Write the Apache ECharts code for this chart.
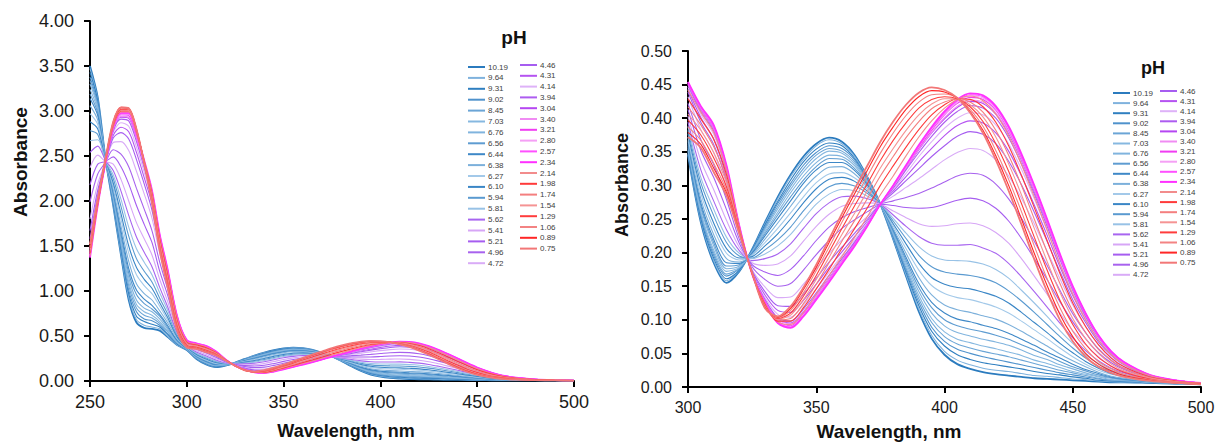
<!DOCTYPE html>
<html><head><meta charset="utf-8">
<script src="https://cdn.jsdelivr.net/npm/echarts@6/dist/echarts.min.js"></script>
<style>html,body{margin:0;padding:0;background:#fff}#c{width:1219px;height:443px}</style>
</head><body><div id="c"></div>
<script>
// wavelength grid (nm)
const wavelengths = [250,254,258,262,266,270,274,278,282,286,290,295,300,305,310,315,320,325,330,335,340,345,350,355,360,365,370,375,380,385,390,395,400,405,410,415,420,425,430,435,440,445,450,455,460,465,470,480,490,500];

const phLabels = ['10.19','9.64','9.31','9.02','8.45','7.03','6.76','6.56','6.44','6.38','6.27','6.10','5.94','5.81','5.62','5.41','5.21','4.96','4.72','4.46','4.31','4.14','3.94','3.04','3.40','3.21','2.80','2.57','2.34','2.14','1.98','1.74','1.54','1.29','1.06','0.89','0.75'];

const abs_1019 = [3.50,3.15,2.47,1.95,1.40,0.90,0.65,0.59,0.58,0.56,0.49,0.40,0.345,0.245,0.185,0.155,0.172,0.205,0.245,0.283,0.316,0.343,0.362,0.371,0.365,0.345,0.312,0.272,0.22,0.165,0.112,0.072,0.048,0.034,0.027,0.022,0.019,0.017,0.015,0.013,0.012,0.011,0.010,0.009,0.008,0.007,0.007,0.006,0.005,0.004];
const abs_964 = [3.47,3.13,2.47,1.96,1.42,0.93,0.68,0.62,0.60,0.58,0.50,0.40,0.347,0.248,0.188,0.158,0.173,0.204,0.243,0.280,0.313,0.339,0.359,0.368,0.362,0.343,0.311,0.272,0.221,0.167,0.116,0.077,0.053,0.040,0.033,0.028,0.025,0.023,0.020,0.017,0.016,0.014,0.012,0.011,0.009,0.008,0.007,0.006,0.005,0.004];
const abs_931 = [3.43,3.11,2.47,1.98,1.46,0.97,0.72,0.66,0.63,0.60,0.52,0.41,0.349,0.251,0.192,0.161,0.174,0.204,0.241,0.276,0.308,0.335,0.354,0.363,0.359,0.340,0.309,0.272,0.223,0.171,0.121,0.083,0.061,0.048,0.041,0.036,0.033,0.030,0.027,0.023,0.020,0.018,0.015,0.013,0.010,0.009,0.008,0.006,0.005,0.004];
const abs_902 = [3.38,3.08,2.47,2.00,1.49,1.01,0.77,0.69,0.67,0.62,0.53,0.42,0.351,0.255,0.196,0.165,0.176,0.203,0.238,0.273,0.303,0.330,0.349,0.359,0.355,0.338,0.308,0.272,0.224,0.174,0.126,0.089,0.068,0.056,0.050,0.045,0.041,0.037,0.033,0.029,0.025,0.021,0.018,0.015,0.012,0.010,0.009,0.007,0.005,0.004];
const abs_845 = [3.34,3.06,2.47,2.02,1.52,1.06,0.81,0.73,0.70,0.64,0.55,0.42,0.353,0.258,0.200,0.168,0.177,0.202,0.236,0.269,0.299,0.325,0.345,0.355,0.351,0.335,0.307,0.272,0.226,0.177,0.131,0.096,0.075,0.064,0.058,0.053,0.049,0.045,0.040,0.035,0.030,0.025,0.021,0.017,0.013,0.010,0.009,0.007,0.005,0.004];
const abs_703 = [3.30,3.04,2.47,2.03,1.55,1.10,0.85,0.77,0.73,0.66,0.56,0.43,0.355,0.261,0.204,0.172,0.178,0.201,0.234,0.265,0.294,0.320,0.340,0.351,0.348,0.332,0.305,0.272,0.228,0.181,0.136,0.102,0.082,0.071,0.066,0.061,0.057,0.052,0.047,0.040,0.035,0.029,0.023,0.019,0.015,0.011,0.010,0.007,0.005,0.004];
const abs_676 = [3.24,3.01,2.46,2.05,1.59,1.15,0.90,0.81,0.77,0.69,0.58,0.44,0.358,0.266,0.210,0.176,0.180,0.201,0.231,0.260,0.289,0.314,0.334,0.345,0.343,0.329,0.303,0.272,0.230,0.185,0.142,0.110,0.091,0.081,0.076,0.071,0.067,0.062,0.055,0.047,0.041,0.033,0.027,0.021,0.016,0.013,0.011,0.007,0.006,0.004];
const abs_656 = [3.19,2.98,2.46,2.08,1.63,1.20,0.96,0.86,0.80,0.72,0.60,0.45,0.361,0.270,0.215,0.180,0.182,0.200,0.228,0.256,0.283,0.308,0.328,0.340,0.339,0.325,0.302,0.272,0.232,0.189,0.148,0.118,0.100,0.091,0.086,0.082,0.077,0.071,0.063,0.055,0.047,0.038,0.030,0.024,0.018,0.014,0.011,0.008,0.006,0.004];
const abs_644 = [3.14,2.95,2.46,2.10,1.67,1.25,1.01,0.91,0.84,0.74,0.62,0.45,0.364,0.274,0.220,0.185,0.184,0.199,0.225,0.251,0.277,0.303,0.323,0.334,0.334,0.322,0.300,0.272,0.234,0.193,0.154,0.126,0.110,0.101,0.097,0.092,0.087,0.080,0.071,0.062,0.052,0.043,0.034,0.026,0.020,0.015,0.012,0.008,0.006,0.004];
const abs_638 = [3.06,2.90,2.46,2.13,1.72,1.33,1.08,0.97,0.90,0.78,0.65,0.47,0.367,0.280,0.227,0.191,0.186,0.197,0.220,0.244,0.269,0.294,0.314,0.327,0.328,0.317,0.297,0.272,0.236,0.199,0.163,0.137,0.122,0.115,0.111,0.106,0.101,0.093,0.083,0.072,0.061,0.049,0.039,0.030,0.022,0.016,0.013,0.008,0.006,0.004];
const abs_627 = [2.97,2.85,2.46,2.17,1.80,1.42,1.18,1.06,0.97,0.83,0.68,0.48,0.372,0.288,0.236,0.199,0.189,0.196,0.215,0.236,0.259,0.283,0.304,0.317,0.319,0.311,0.294,0.272,0.240,0.206,0.174,0.151,0.139,0.133,0.130,0.125,0.119,0.110,0.098,0.085,0.072,0.058,0.045,0.034,0.025,0.019,0.015,0.009,0.006,0.005];
const abs_610 = [2.88,2.80,2.46,2.20,1.86,1.50,1.26,1.13,1.03,0.87,0.71,0.49,0.377,0.295,0.244,0.206,0.192,0.194,0.210,0.228,0.250,0.274,0.295,0.309,0.312,0.306,0.291,0.272,0.243,0.213,0.184,0.163,0.153,0.148,0.146,0.141,0.135,0.125,0.111,0.096,0.081,0.065,0.051,0.038,0.028,0.020,0.016,0.009,0.006,0.005];
const abs_594 = [2.78,2.74,2.45,2.25,1.94,1.61,1.36,1.22,1.10,0.92,0.75,0.51,0.382,0.304,0.255,0.215,0.195,0.192,0.204,0.219,0.238,0.262,0.283,0.298,0.303,0.299,0.288,0.272,0.247,0.221,0.196,0.179,0.171,0.168,0.166,0.162,0.155,0.143,0.128,0.111,0.093,0.075,0.058,0.043,0.031,0.023,0.017,0.010,0.007,0.005];
const abs_581 = [2.67,2.68,2.45,2.29,2.02,1.71,1.47,1.32,1.18,0.98,0.79,0.53,0.388,0.312,0.265,0.223,0.199,0.191,0.198,0.210,0.227,0.250,0.272,0.287,0.294,0.292,0.284,0.272,0.251,0.229,0.209,0.195,0.189,0.188,0.187,0.183,0.175,0.162,0.144,0.125,0.105,0.084,0.065,0.048,0.035,0.025,0.019,0.011,0.007,0.005];
const abs_562 = [2.54,2.61,2.45,2.34,2.11,1.84,1.60,1.43,1.27,1.04,0.83,0.54,0.394,0.323,0.277,0.234,0.203,0.188,0.191,0.198,0.213,0.236,0.258,0.274,0.283,0.284,0.280,0.272,0.256,0.239,0.224,0.214,0.211,0.211,0.212,0.207,0.199,0.184,0.164,0.142,0.119,0.095,0.073,0.054,0.039,0.028,0.021,0.011,0.007,0.005];
const abs_541 = [2.37,2.51,2.44,2.41,2.24,2.00,1.76,1.58,1.40,1.13,0.89,0.57,0.403,0.337,0.294,0.248,0.208,0.185,0.181,0.183,0.195,0.217,0.239,0.257,0.269,0.273,0.274,0.272,0.262,0.252,0.243,0.239,0.240,0.243,0.244,0.240,0.230,0.214,0.191,0.165,0.138,0.110,0.084,0.063,0.045,0.031,0.023,0.012,0.008,0.005];
const abs_521 = [2.18,2.41,2.44,2.49,2.38,2.19,1.95,1.74,1.54,1.22,0.96,0.60,0.413,0.352,0.312,0.264,0.214,0.182,0.171,0.166,0.175,0.195,0.218,0.238,0.252,0.261,0.267,0.272,0.270,0.267,0.266,0.267,0.272,0.278,0.281,0.277,0.266,0.247,0.221,0.191,0.160,0.127,0.097,0.072,0.051,0.036,0.026,0.013,0.008,0.005];
const abs_496 = [1.99,2.30,2.43,2.57,2.52,2.38,2.14,1.91,1.67,1.32,1.03,0.63,0.422,0.368,0.331,0.279,0.220,0.179,0.160,0.150,0.154,0.174,0.197,0.218,0.236,0.249,0.261,0.272,0.277,0.282,0.288,0.296,0.305,0.314,0.318,0.315,0.302,0.280,0.251,0.217,0.181,0.144,0.109,0.081,0.057,0.040,0.028,0.015,0.009,0.005];
const abs_472 = [1.80,2.19,2.43,2.65,2.66,2.56,2.33,2.08,1.81,1.42,1.10,0.66,0.432,0.383,0.349,0.295,0.226,0.175,0.149,0.133,0.134,0.153,0.176,0.199,0.219,0.237,0.254,0.272,0.284,0.297,0.310,0.324,0.338,0.349,0.355,0.352,0.338,0.314,0.281,0.243,0.202,0.161,0.122,0.090,0.063,0.044,0.031,0.016,0.009,0.006];
const abs_446 = [1.67,2.12,2.43,2.70,2.76,2.69,2.46,2.19,1.90,1.48,1.14,0.68,0.439,0.394,0.361,0.306,0.230,0.173,0.142,0.121,0.120,0.138,0.162,0.186,0.208,0.229,0.250,0.272,0.289,0.307,0.325,0.343,0.359,0.373,0.380,0.376,0.362,0.336,0.301,0.260,0.217,0.172,0.130,0.096,0.067,0.047,0.033,0.016,0.009,0.006];
const abs_431 = [1.58,2.07,2.43,2.73,2.82,2.77,2.54,2.26,1.97,1.52,1.17,0.69,0.443,0.401,0.369,0.312,0.233,0.172,0.137,0.114,0.111,0.129,0.153,0.178,0.201,0.224,0.247,0.272,0.292,0.313,0.335,0.355,0.374,0.389,0.396,0.393,0.378,0.351,0.314,0.271,0.226,0.179,0.136,0.100,0.070,0.048,0.034,0.017,0.009,0.006];
const abs_414 = [1.52,2.03,2.42,2.76,2.87,2.83,2.60,2.32,2.01,1.56,1.20,0.70,0.446,0.406,0.376,0.318,0.235,0.171,0.133,0.108,0.104,0.122,0.146,0.171,0.196,0.219,0.245,0.272,0.294,0.318,0.343,0.365,0.385,0.400,0.408,0.405,0.390,0.362,0.324,0.280,0.233,0.185,0.140,0.103,0.072,0.050,0.035,0.017,0.010,0.006];
const abs_394 = [1.47,2.00,2.42,2.78,2.91,2.89,2.66,2.37,2.05,1.58,1.22,0.71,0.449,0.410,0.381,0.322,0.237,0.170,0.130,0.103,0.098,0.116,0.140,0.166,0.191,0.216,0.243,0.272,0.296,0.323,0.349,0.373,0.394,0.410,0.419,0.415,0.400,0.371,0.332,0.287,0.239,0.190,0.144,0.105,0.074,0.051,0.036,0.017,0.010,0.006];
const abs_304 = [1.43,1.99,2.42,2.79,2.93,2.92,2.69,2.39,2.07,1.60,1.23,0.71,0.451,0.413,0.384,0.325,0.238,0.169,0.129,0.101,0.095,0.112,0.137,0.162,0.188,0.214,0.242,0.272,0.298,0.325,0.353,0.378,0.399,0.416,0.425,0.422,0.406,0.377,0.337,0.291,0.243,0.192,0.146,0.107,0.075,0.052,0.036,0.018,0.010,0.006];
const abs_340 = [1.42,1.98,2.42,2.80,2.94,2.93,2.70,2.40,2.08,1.60,1.23,0.71,0.451,0.414,0.385,0.326,0.238,0.169,0.128,0.100,0.094,0.111,0.136,0.161,0.188,0.213,0.242,0.272,0.298,0.326,0.354,0.379,0.401,0.418,0.427,0.424,0.408,0.379,0.339,0.293,0.244,0.193,0.146,0.107,0.075,0.052,0.036,0.018,0.010,0.006];
const abs_321 = [1.40,1.97,2.42,2.81,2.96,2.95,2.72,2.42,2.10,1.61,1.24,0.72,0.452,0.415,0.387,0.327,0.239,0.169,0.127,0.098,0.091,0.109,0.133,0.159,0.186,0.212,0.241,0.272,0.299,0.328,0.356,0.382,0.405,0.422,0.431,0.428,0.412,0.382,0.342,0.296,0.246,0.195,0.148,0.108,0.076,0.052,0.037,0.018,0.010,0.006];
const abs_280 = [1.39,1.96,2.42,2.81,2.96,2.96,2.73,2.43,2.11,1.62,1.24,0.72,0.453,0.416,0.388,0.328,0.239,0.168,0.126,0.097,0.090,0.107,0.132,0.158,0.185,0.211,0.241,0.272,0.299,0.328,0.358,0.384,0.406,0.424,0.433,0.430,0.414,0.384,0.344,0.297,0.248,0.196,0.149,0.109,0.076,0.053,0.037,0.018,0.010,0.006];
const abs_257 = [1.38,1.96,2.42,2.82,2.97,2.97,2.74,2.44,2.11,1.63,1.25,0.72,0.453,0.417,0.389,0.329,0.240,0.168,0.126,0.096,0.089,0.106,0.131,0.157,0.184,0.211,0.240,0.272,0.300,0.329,0.359,0.385,0.408,0.426,0.435,0.432,0.416,0.386,0.345,0.299,0.249,0.197,0.149,0.110,0.077,0.053,0.037,0.018,0.010,0.006];
const abs_234 = [1.37,1.95,2.42,2.82,2.98,2.98,2.75,2.45,2.12,1.63,1.25,0.72,0.454,0.418,0.390,0.330,0.240,0.168,0.125,0.095,0.088,0.105,0.130,0.156,0.183,0.210,0.240,0.272,0.300,0.330,0.360,0.387,0.410,0.428,0.437,0.434,0.418,0.388,0.347,0.300,0.250,0.198,0.150,0.110,0.077,0.053,0.037,0.018,0.010,0.006];
const abs_214 = [1.39,1.96,2.43,2.83,2.99,2.99,2.76,2.45,2.10,1.60,1.22,0.70,0.442,0.409,0.379,0.323,0.238,0.168,0.124,0.097,0.093,0.111,0.138,0.166,0.194,0.223,0.254,0.286,0.314,0.344,0.372,0.396,0.415,0.428,0.433,0.426,0.406,0.374,0.331,0.283,0.234,0.183,0.138,0.100,0.070,0.048,0.034,0.017,0.009,0.006];
const abs_198 = [1.42,1.97,2.44,2.84,3.00,3.00,2.77,2.44,2.08,1.58,1.19,0.67,0.429,0.399,0.369,0.316,0.236,0.169,0.123,0.098,0.098,0.118,0.146,0.175,0.206,0.236,0.267,0.300,0.329,0.357,0.383,0.405,0.420,0.429,0.428,0.417,0.394,0.359,0.315,0.267,0.218,0.169,0.125,0.090,0.063,0.043,0.030,0.015,0.009,0.005];
const abs_174 = [1.44,1.98,2.44,2.85,3.01,3.00,2.77,2.44,2.06,1.55,1.16,0.65,0.417,0.390,0.358,0.310,0.235,0.169,0.121,0.100,0.102,0.124,0.153,0.185,0.217,0.248,0.281,0.314,0.343,0.371,0.395,0.414,0.424,0.429,0.424,0.409,0.382,0.345,0.300,0.250,0.201,0.154,0.113,0.081,0.056,0.039,0.027,0.014,0.008,0.005];
const abs_154 = [1.46,1.99,2.45,2.86,3.02,3.01,2.78,2.43,2.04,1.53,1.13,0.63,0.406,0.382,0.349,0.304,0.233,0.169,0.120,0.101,0.107,0.130,0.160,0.193,0.227,0.259,0.292,0.326,0.355,0.382,0.405,0.421,0.429,0.429,0.420,0.402,0.372,0.332,0.286,0.236,0.187,0.141,0.102,0.072,0.050,0.034,0.024,0.013,0.008,0.005];
const abs_129 = [1.48,2.00,2.46,2.86,3.02,3.02,2.79,2.43,2.02,1.50,1.11,0.61,0.397,0.375,0.341,0.298,0.232,0.169,0.119,0.102,0.110,0.135,0.166,0.201,0.236,0.270,0.303,0.337,0.367,0.393,0.415,0.428,0.432,0.429,0.417,0.395,0.362,0.321,0.273,0.223,0.174,0.129,0.093,0.064,0.044,0.031,0.022,0.012,0.007,0.005];
const abs_106 = [1.49,2.01,2.46,2.87,3.03,3.02,2.79,2.43,2.01,1.48,1.09,0.59,0.387,0.367,0.333,0.293,0.230,0.170,0.118,0.103,0.114,0.140,0.173,0.208,0.245,0.280,0.314,0.348,0.378,0.404,0.424,0.435,0.436,0.430,0.413,0.388,0.352,0.309,0.261,0.210,0.161,0.118,0.083,0.057,0.038,0.027,0.019,0.011,0.007,0.004];
const abs_089 = [1.51,2.01,2.47,2.88,3.04,3.03,2.80,2.42,1.99,1.46,1.07,0.57,0.379,0.361,0.326,0.289,0.229,0.170,0.118,0.104,0.117,0.145,0.178,0.215,0.252,0.288,0.323,0.358,0.387,0.413,0.432,0.441,0.439,0.430,0.410,0.382,0.344,0.300,0.250,0.199,0.151,0.108,0.075,0.050,0.034,0.024,0.017,0.010,0.006,0.004];
const abs_075 = [1.52,2.02,2.47,2.88,3.04,3.03,2.80,2.42,1.98,1.45,1.05,0.56,0.372,0.356,0.320,0.285,0.228,0.170,0.117,0.105,0.120,0.148,0.182,0.220,0.258,0.295,0.330,0.365,0.395,0.420,0.438,0.446,0.442,0.430,0.408,0.378,0.338,0.292,0.242,0.190,0.142,0.100,0.068,0.045,0.030,0.021,0.015,0.009,0.006,0.004];

const spectra = [abs_1019,abs_964,abs_931,abs_902,abs_845,abs_703,abs_676,abs_656,abs_644,abs_638,abs_627,abs_610,abs_594,abs_581,abs_562,abs_541,abs_521,abs_496,abs_472,abs_446,abs_431,abs_414,abs_394,abs_304,abs_340,abs_321,abs_280,abs_257,abs_234,abs_214,abs_198,abs_174,abs_154,abs_129,abs_106,abs_089,abs_075];

const lineColors = ['#2B7BBE','#7FB2DD','#2F7FC0','#4F92CC','#6BA5D6','#86B8E0','#80B4DE','#5E9CD1','#3E88C7','#7CB0DB','#A3C9E9','#3A86C6','#5A9AD0','#98C2E6',
  '#A865F0','#D7A6F6','#A65DF0','#A862EE','#D9ABF7',
  '#A65DF0','#B553F1','#DEB2F8','#AD5CF0','#B546F2','#F08CF3','#F03CF2','#F5A0F5','#FF50FF','#FF30FF',
  '#F28C8C','#FF3A3A','#F47F7F','#F59494','#FF3C3C','#F38383','#FF2626','#F27777'];

const FONT = '"Liberation Sans", Arial, sans-serif';
const chart = echarts.init(document.getElementById('c'), null, {renderer: 'svg'});

function mkAxisX(grid, min, max, fs) {
  return {gridIndex: grid, type: 'value', min: min, max: max, interval: 50,
    axisLine: {show: true, onZero: false, lineStyle: {color: '#000', width: 2}},
    axisTick: {show: true, length: 6, lineStyle: {color: '#000', width: 2}},
    axisLabel: {fontSize: fs, color: '#1a1a1a', margin: 12, fontFamily: FONT},
    splitLine: {show: false}};
}
function mkAxisY(grid, max, interval, fs) {
  return {gridIndex: grid, type: 'value', min: 0, max: max, interval: interval,
    axisLine: {show: true, onZero: false, lineStyle: {color: '#000', width: 2}},
    axisTick: {show: true, length: 6, lineStyle: {color: '#000', width: 2}},
    axisLabel: {fontSize: fs, color: '#1a1a1a', margin: 16, fontFamily: FONT, formatter: v => v.toFixed(2)},
    splitLine: {show: false}};
}
function legendCol(names, left, top, gap) {
  return {data: names, orient: 'vertical', left: left, top: top, itemGap: gap, itemWidth: 17, itemHeight: 2,
    icon: 'rect', selectedMode: false, padding: 0,
    textStyle: {fontSize: 8, color: '#404040', lineHeight: 10, fontFamily: FONT, padding: [0, 0, 0, -2]}};
}

const series = [];
phLabels.forEach((name, i) => {
  const w = (i === 0 || i === 28 || i === 36) ? 1.8 : 1.1;
  const pts = wavelengths.map((x, k) => [x, spectra[i][k]]);
  [0, 1].forEach(g => {
    series.push({type: 'line', name: name, xAxisIndex: g, yAxisIndex: g, symbol: 'none', smooth: 0.3,
      color: lineColors[i], lineStyle: {color: lineColors[i], width: w}, silent: true,
      emphasis: {disabled: true},
      data: g === 0 ? pts : pts.filter(p => p[0] >= 300)});
  });
});

const option = {
  animation: false,
  backgroundColor: '#fff',
  grid: [
    {left: 90, top: 21, width: 484, height: 360},
    {left: 688, top: 51, width: 513, height: 336}
  ],
  xAxis: [mkAxisX(0, 250, 500, 18), mkAxisX(1, 300, 500, 16)],
  yAxis: [mkAxisY(0, 4, 0.5, 18), mkAxisY(1, 0.5, 0.05, 16)],
  legend: [
    legendCol(phLabels.slice(0, 19), 468, 62, 0.9),
    legendCol(phLabels.slice(19), 520, 60, 0.8),
    legendCol(phLabels.slice(0, 19), 1113, 88, 0.1),
    legendCol(phLabels.slice(19), 1160, 86, 0.1)
  ],
  graphic: [
    {type: 'text', x: 20, y: 162, rotation: Math.PI / 2, style: {text: 'Absorbance', font: 'bold 19px ' + FONT, fill: '#111', textAlign: 'center', textVerticalAlign: 'middle'}},
    {type: 'text', x: 346, y: 431, style: {text: 'Wavelength, nm', font: 'bold 18px ' + FONT, fill: '#111', textAlign: 'center', textVerticalAlign: 'middle'}},
    {type: 'text', x: 514, y: 37, style: {text: 'pH', font: 'bold 19px ' + FONT, fill: '#111', textAlign: 'center', textVerticalAlign: 'middle'}},
    {type: 'text', x: 622, y: 185, rotation: Math.PI / 2, style: {text: 'Absorbance', font: 'bold 18px ' + FONT, fill: '#111', textAlign: 'center', textVerticalAlign: 'middle'}},
    {type: 'text', x: 889, y: 431, style: {text: 'Wavelength, nm', font: 'bold 19px ' + FONT, fill: '#111', textAlign: 'center', textVerticalAlign: 'middle'}},
    {type: 'text', x: 1153, y: 68, style: {text: 'pH', font: 'bold 18px ' + FONT, fill: '#111', textAlign: 'center', textVerticalAlign: 'middle'}}
  ],
  series: series
};
chart.setOption(option);
</script>
</body></html>
